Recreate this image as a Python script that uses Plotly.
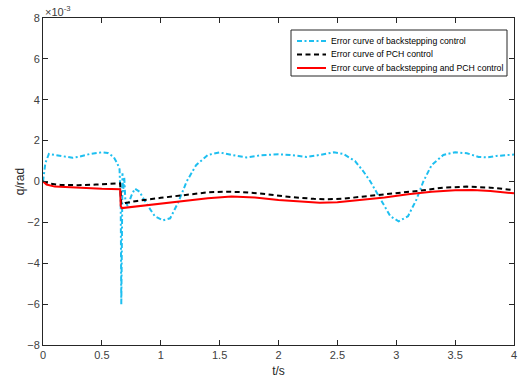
import plotly.graph_objects as go

# time (s) and errors (x1e-3 rad)
t_bs = [0, 0.02, 0.05, 0.1, 0.2, 0.25, 0.3, 0.4, 0.5, 0.55, 0.6, 0.63, 0.65, 0.66, 0.665, 0.67, 0.675,
        0.68, 0.69, 0.70, 0.72, 0.75, 0.78, 0.82, 0.88, 0.95, 1.02, 1.08, 1.15, 1.22, 1.3, 1.4, 1.5,
        1.6, 1.73, 1.85, 2.0, 2.1, 2.24, 2.35, 2.47, 2.55, 2.65, 2.72, 2.78, 2.88, 2.95, 3.02, 3.1,
        3.17, 3.23, 3.3, 3.4, 3.5, 3.6, 3.7, 3.77, 3.85, 3.95, 4.0]
e_bs = [0, 0.9, 1.35, 1.3, 1.18, 1.16, 1.2, 1.35, 1.43, 1.4, 1.2, 0.9, 0.6, -1.0, -6.0, -4.0, 0.4,
        -0.5, 0.2, -1.0, -1.2, -0.7, -0.35, -0.5, -1.1, -1.7, -1.9, -1.8, -1.0, 0, 0.8, 1.3, 1.42,
        1.3, 1.18, 1.28, 1.33, 1.3, 1.2, 1.3, 1.43, 1.35, 1.0, 0.5, 0, -1.0, -1.7, -1.95, -1.7,
        -0.9, 0, 0.8, 1.3, 1.43, 1.38, 1.2, 1.18, 1.25, 1.32, 1.32]

t_pch = [0, 0.05, 0.15, 0.3, 0.45, 0.6, 0.655, 0.66, 0.665, 0.7, 0.8, 1.0, 1.2, 1.4, 1.56, 1.7,
         1.9, 2.1, 2.3, 2.4, 2.55, 2.8, 3.0, 3.2, 3.4, 3.6, 3.8, 4.0]
e_pch = [0, -0.1, -0.17, -0.18, -0.15, -0.1, -0.09, -0.6, -1.1, -1.05, -0.95, -0.8, -0.65, -0.53,
         -0.5, -0.52, -0.62, -0.76, -0.85, -0.87, -0.84, -0.7, -0.58, -0.45, -0.3, -0.25, -0.3, -0.42]

t_bp = [0, 0.03, 0.1, 0.3, 0.5, 0.655, 0.66, 0.67, 0.8, 1.0, 1.2, 1.4, 1.6, 1.8, 2.0, 2.2, 2.35,
        2.5, 2.7, 2.9, 3.1, 3.3, 3.5, 3.65, 3.8, 4.0]
e_bp = [0, -0.15, -0.25, -0.32, -0.36, -0.38, -1.2, -1.3, -1.22, -1.1, -0.95, -0.82, -0.74, -0.78,
        -0.9, -1.0, -1.04, -1.02, -0.9, -0.78, -0.62, -0.5, -0.43, -0.42, -0.46, -0.58]

x_ticks = [0, 0.5, 1, 1.5, 2, 2.5, 3, 3.5, 4]
x_tick_text = ["0", "0.5", "1", "1.5", "2", "2.5", "3", "3.5", "4"]
y_ticks = [-8, -6, -4, -2, 0, 2, 4, 6, 8]

names = ["Error curve of backstepping control",
         "Error curve of PCH control",
         "Error curve of backstepping and PCH control"]
colors = ["#1EBFF0", "black", "#FF0000"]
dashes = ["5px,2.5px,2px,2.5px", "5px,3.5px", "solid"]
FONT = "Liberation Sans, Arial"

fig = go.Figure()
for tt, ee, nm, c, d in zip([t_bs, t_pch, t_bp], [e_bs, e_pch, e_bp], names, colors, dashes):
    fig.add_trace(go.Scatter(x=tt, y=ee, mode="lines", name=nm, showlegend=False,
                             line=dict(color=c, width=2, dash=d)))

axis_common = dict(showline=True, linecolor="#262626", linewidth=1, mirror="ticks",
                   ticks="inside", ticklen=5, tickcolor="#262626", showgrid=False, zeroline=False,
                   automargin=False,
                   tickfont=dict(family=FONT, size=11, color="#404040"))
fig.update_xaxes(range=[0, 4], tickvals=x_ticks, ticktext=x_tick_text,
                 title=dict(text="t/s", font=dict(family=FONT, size=12, color="#262626"),
                            standoff=6), **axis_common)
fig.update_yaxes(range=[-8, 8], tickvals=y_ticks,
                 title=dict(text="q/rad", font=dict(family=FONT, size=12, color="#262626"),
                            standoff=0), **axis_common)

fig.add_annotation(x=0, y=1, xref="paper", yref="paper", xanchor="left", yanchor="bottom",
                   text="×10<sup>-3</sup>", showarrow=False,
                   font=dict(family=FONT, size=11, color="#404040"), yshift=-2)

# legend box (paper coords; plot area is 471 x 327 px)
W, H = 471.0, 327.0
def px(xp):
    return (xp - 43) / W
def py(yp):
    return (345 - yp) / H

fig.add_shape(type="rect", xref="paper", yref="paper", x0=px(291), x1=px(507), y0=py(76), y1=py(30),
              line=dict(color="#262626", width=1), fillcolor="white", layer="above")
for i, (nm, c, d) in enumerate(zip(names, colors, dashes)):
    yy = py(41 + i * 13.5)
    fig.add_shape(type="line", xref="paper", yref="paper", x0=px(297), x1=px(326), y0=yy, y1=yy,
                  line=dict(color=c, width=2, dash=d), layer="above")
    fig.add_annotation(x=px(329), y=yy, xref="paper", yref="paper", xanchor="left", yanchor="middle",
                       text=nm, showarrow=False, font=dict(family=FONT, size=8.7, color="black"))

fig.update_layout(
    width=523, height=379,
    margin=dict(l=43, r=9, t=18, b=34),
    plot_bgcolor="white", paper_bgcolor="white",
    showlegend=False,
)

fig.write_html("out.html")
